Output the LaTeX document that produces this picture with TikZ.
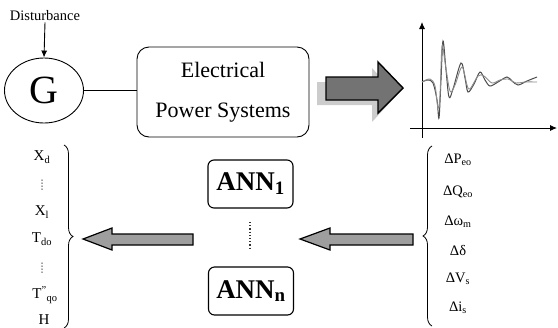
\documentclass[tikz,border=0pt]{standalone}
\usepackage{fontspec}
\setmainfont{Liberation Serif}
\usetikzlibrary{shapes.geometric,arrows.meta,decorations.pathreplacing}
\tikzset{
  lbl/.style={inner sep=0pt,font=\fontsize{15bp}{17bp}\selectfont},
  rlbl/.style={inner sep=0pt,font=\fontsize{14.5bp}{16bp}\selectfont},
  annbox/.style={draw,rounded corners=6bp,line width=1.1bp,minimum width=85bp,minimum height=48bp,inner sep=0pt,font=\fontsize{27bp}{30bp}\selectfont\bfseries},
  bigarrow/.style={draw=black,line width=1.4bp,fill=black!36},
  brc/.style={decorate,decoration={brace,amplitude=9bp},line width=0.8bp},
  vdot/.style={fill=black!75},
}
\begin{document}
\begin{tikzpicture}[x=1bp,y=-1bp]
\useasboundingbox (0,0) rectangle (558,327);
% top row
\node[inner sep=1pt,font=\fontsize{14.5bp}{16bp}\selectfont] (dist) at (45,16) {Disturbance};
\node[ellipse,draw,line width=0.9bp,minimum width=79bp,minimum height=65bp,inner sep=0pt,font=\fontsize{40bp}{42bp}\selectfont] (G) at (44,90.5) {G};
\draw[-{Latex[length=7bp,width=6bp]},line width=0.9bp] (dist.south) -- (G.north);
\node[draw,rounded corners=12bp,line width=0.9bp,minimum width=172bp,minimum height=90bp,align=center,font=\fontsize{22bp}{40bp}\selectfont] (eps) at (223,92) {Electrical\\Power Systems};
\draw[line width=0.9bp] (G.east) -- (G.east -| eps.west);
% shadow arrow
\fill[black!20] (317,82) -- (372,82) -- (372,68) -- (397,95) -- (372,122) -- (372,105) -- (317,105) -- cycle;
\draw[bigarrow,fill=black!55] (326,77) -- (378,77) -- (378,62) -- (403,88) -- (378,113) -- (378,100) -- (326,100) -- cycle;
% plot
\coordinate (yb) at (422,138);
\coordinate (yt) at (422,22);
\coordinate (xl) at (410,128);
\coordinate (xr) at (557,128);
\draw[-{Latex[length=7bp,width=6bp]},line width=0.9bp] (yb) -- (yt);
\draw[-{Latex[length=7bp,width=6bp]},line width=0.9bp] (xl) -- (xr);
\draw[black!70,line width=1bp] plot[smooth,tension=0.55] coordinates {(422,82) (428,80) (433,83) (437,100) (439,118) (441,80) (443,41) (446,70) (449,97) (453,89) (461,63) (465,78) (468,92) (474,84) (480,72) (485,80) (490,86) (498,82) (507,77) (512,81) (518,85) (527,81) (537,77)};
\draw[black!45,line width=0.9bp] plot[smooth,tension=0.55] coordinates {(422,82) (430,79) (435,86) (438,108) (440,95) (442,46) (445,62) (450,91) (455,85) (462,67) (467,85) (470,89) (478,76) (484,76) (492,83) (500,80) (508,79) (516,83) (525,82) (537,82)};
% ANN boxes
\node[annbox] (ann1) at (250.5,184) {ANN\textsubscript{1}};
\node[annbox] (annn) at (251,291) {ANN\textsubscript{n}};
\draw[dotted,line width=1.2bp,black!80] (250,222) -- (250,248);
% arrows bottom
\filldraw[bigarrow,fill=black!38,line width=1.2bp] (193,234) -- (112,234) -- (112,228) -- (83,239) -- (112,250) -- (112,245) -- (193,245) -- cycle;
\filldraw[bigarrow,fill=black!38,line width=1.2bp] (413,234) -- (330,234) -- (330,228) -- (300,239) -- (330,250) -- (330,245) -- (413,245) -- cycle;
% left labels
\node[lbl] (xd) at (42,157) {X\textsubscript{d}};
\foreach \yy in {180,183,186,189} \fill[vdot] (42,\yy) circle (0.75bp);
\node[lbl] (xlab) at (42,212) {X\textsubscript{l}};
\node[lbl] (tdo) at (42,239) {T\textsubscript{do}};
\foreach \yy in {263,266,269,272} \fill[vdot] (42,\yy) circle (0.75bp);
\node[lbl] (tqo) at (45,295) {T\textsuperscript{"}\textsubscript{qo}};
\node[lbl] (h) at (44,320) {H};
\coordinate (lbt) at (64,145);
\coordinate (lbb) at (64,328);
\draw[brc] (lbt) -- (lbb);
% right labels
\node[rlbl] (dp) at (458,160) {ΔP\textsubscript{eo}};
\node[rlbl] (dq) at (458,192) {ΔQ\textsubscript{eo}};
\node[rlbl] (dw) at (458,222) {Δω\textsubscript{m}};
\node[rlbl] (dd) at (458,250) {Δδ};
\node[rlbl] (dv) at (458,279) {ΔV\textsubscript{s}};
\node[rlbl] (di) at (458,308) {Δi\textsubscript{s}};
\coordinate (rbt) at (432,146);
\coordinate (rbb) at (432,326);
\draw[brc] (rbb) -- (rbt);
\end{tikzpicture}
\end{document}
